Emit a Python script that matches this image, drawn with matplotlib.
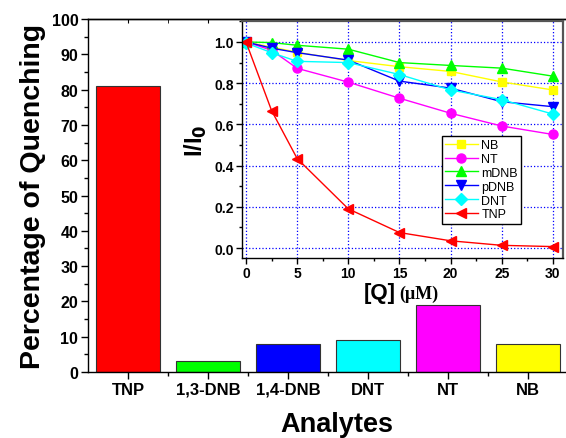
import matplotlib.pyplot as plt
import matplotlib.ticker as mticker

plt.rcParams['font.family'] = ['Liberation Sans', 'DejaVu Sans']

# bar chart data
analytes = ["TNP", "1,3-DNB", "1,4-DNB", "DNT", "NT", "NB"]
quench = [81, 3, 8, 9, 19, 8]
bar_colors = ["#ff0000", "#00ff00", "#0000ff", "#00ffff", "#ff00ff", "#ffff00"]

# inset data (I/I0 vs [Q])
conc = [0, 2.5, 5, 10, 15, 20, 25, 30]
nb = [1.0, 0.975, 0.95, 0.91, 0.88, 0.857, 0.806, 0.767]
nt = [1.0, 0.96, 0.872, 0.805, 0.727, 0.654, 0.592, 0.551]
mdnb = [1.0, 0.997, 0.984, 0.965, 0.90, 0.886, 0.873, 0.834]
pdnb = [1.0, 0.97, 0.948, 0.912, 0.81, 0.776, 0.71, 0.686]
dnt = [0.995, 0.948, 0.906, 0.90, 0.842, 0.767, 0.72, 0.65]
tnp = [1.0, 0.667, 0.434, 0.19, 0.075, 0.035, 0.013, 0.007]

fig = plt.figure(figsize=(5.66, 4.39), dpi=100)

# main bar chart
ax = fig.add_axes([0.1555, 0.1503, 0.848, 0.804])
ax.bar(range(len(analytes)), quench, width=0.8, color=bar_colors,
       edgecolor="#333333", linewidth=0.8)
ax.set_xlim(-0.5, 5.5)
ax.set_ylim(0, 100)
ax.set_xticks(range(len(analytes)))
ax.set_xticklabels(analytes, fontweight="bold", fontsize=12)
ax.xaxis.set_minor_locator(mticker.FixedLocator([0.5, 1.5, 2.5, 3.5, 4.5]))
ax.yaxis.set_major_locator(mticker.MultipleLocator(10))
ax.yaxis.set_minor_locator(mticker.MultipleLocator(5))
for lab in ax.get_yticklabels():
    lab.set_fontweight("bold")
    lab.set_fontsize(11.5)
ax.tick_params(which="major", direction="out", length=5, width=1, pad=2)
ax.tick_params(which="minor", direction="out", length=3, width=1)
ax.spines["right"].set_visible(False)
for s in ["left", "bottom", "top"]:
    ax.spines[s].set_linewidth(1.0)
sec = ax.secondary_xaxis("top")
sec.set_xticks(range(len(analytes)))
sec.xaxis.set_minor_locator(mticker.FixedLocator([0.5, 1.5, 2.5, 3.5, 4.5]))
sec.tick_params(which="both", direction="in", length=3, labeltop=False)
sec.spines["top"].set_linewidth(1.0)
ax.set_ylabel("Percentage of Quenching", fontsize=20.5, fontweight="bold", labelpad=4)
ax.text(0.519, -0.168, "Analytes", transform=ax.transAxes, ha="center",
        va="baseline", fontsize=19.5, fontweight="bold")

# inset line chart
ins = fig.add_axes([0.4276, 0.41, 0.567, 0.54])
ins.plot(conc, nb, "-s", color="#ffff00", ms=6, lw=1, label="NB")
ins.plot(conc, nt, "-o", color="#ff00ff", ms=6.5, lw=1, label="NT")
ins.plot(conc, mdnb, "-^", color="#00ff00", ms=7, lw=1, label="mDNB")
ins.plot(conc, pdnb, "-v", color="#0000ff", ms=7, lw=1, label="pDNB")
ins.plot(conc, dnt, "-D", color="#00ffff", ms=6, lw=1, label="DNT")
ins.plot(conc, tnp, "-<", color="#ff0000", ms=7, lw=1, label="TNP")
ins.set_xlim(-0.39, 30.98)
ins.set_ylim(-0.0485, 1.102)
ins.xaxis.set_major_locator(mticker.MultipleLocator(5))
ins.xaxis.set_minor_locator(mticker.MultipleLocator(2.5))
ins.yaxis.set_major_locator(mticker.MultipleLocator(0.2))
ins.yaxis.set_minor_locator(mticker.MultipleLocator(0.1))
ins.yaxis.set_major_formatter(mticker.FormatStrFormatter("%.1f"))
ins.grid(True, which="major", color="#0000ff", linestyle=":", linewidth=0.9)
ins.tick_params(which="major", direction="out", length=4, width=1, pad=2,
                labelsize=10)
ins.tick_params(which="minor", direction="out", length=2.5, width=1)
for lab in ins.get_xticklabels() + ins.get_yticklabels():
    lab.set_fontweight("bold")
for s in ["left", "bottom"]:
    ins.spines[s].set_linewidth(1.0)
for s in ["top", "right"]:
    ins.spines[s].set_linewidth(1.6)
    ins.spines[s].set_color("#555555")
ins.set_ylabel(r"I/I$_\mathbf{0}$", fontsize=17, fontweight="bold", labelpad=4)
ins.text(0.478, -0.168, "[Q]", transform=ins.transAxes, ha="right",
         va="baseline", fontsize=16, fontweight="bold")
ins.text(0.49, -0.168, "(\u03bcM)", transform=ins.transAxes, ha="left",
         va="baseline", fontsize=13, fontweight="bold",
         family=["Liberation Serif", "DejaVu Serif"])
leg = ins.legend(loc="upper left", bbox_to_anchor=(0.623, 0.515),
                 borderaxespad=0, fontsize=9, handlelength=2.6,
                 handletextpad=0.3, labelspacing=0.15, borderpad=0.25,
                 fancybox=False, framealpha=1, edgecolor="black")
leg.get_frame().set_linewidth(1.0)

fig.savefig("out.png", dpi=100)
